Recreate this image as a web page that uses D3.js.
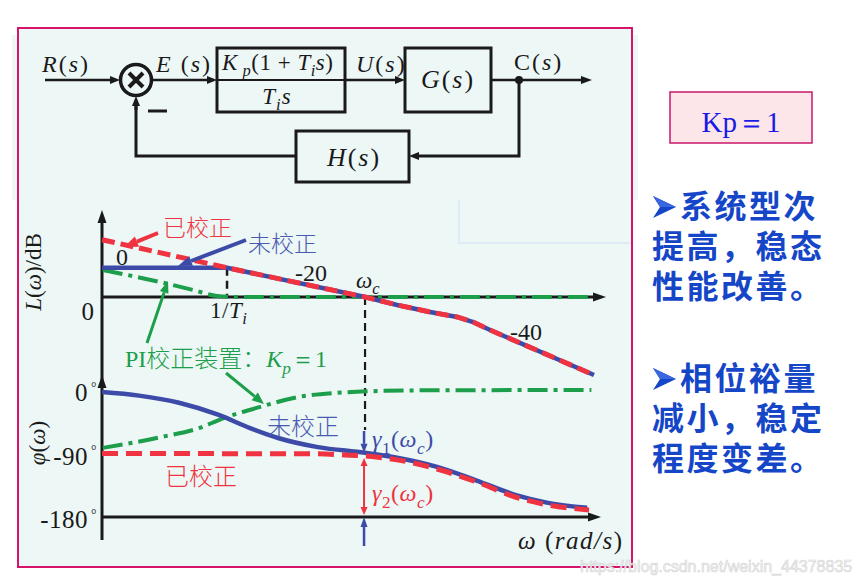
<!DOCTYPE html>
<html lang="zh">
<head>
<meta charset="UTF-8">
<title>PI校正 伯德图</title>
<script src="https://cdn.jsdelivr.net/npm/d3@7"></script>
<style>
  body { margin: 0; background: #fff; }
  svg { display: block; }
</style>
</head>
<body>
<svg width="860" height="584"></svg>
<script>
// 横軸は log10(ω·Ti)：1/Ti -> 0, ωc -> 1
const logWDomain = [-0.906, 2.746];

// 幅频特性 [logω, dB]
const magUncorrected = [[-0.906, 19.5], [0, 19.5], [1.0, 0], [1.232, -5.3], [1.471, -10], [1.667, -13.3], [1.783, -16.7], [1.906, -22], [2.659, -52]];
const magCorrected = [[-0.906, 38.2], [0, 19.5], [1.0, 0], [1.232, -5.3], [1.471, -10], [1.667, -13.3], [1.783, -16.7], [1.906, -22], [2.659, -52]];
const magPI = [[-0.9, 18], [-0.486, 10], [-0.246, 4.7], [-0.072, 0.7], [0.1, 0], [2.64, 0]];

// 相频特性 [logω, deg]
const phaseUncorrected = [[-0.906, -3], [-0.638, -8], [-0.348, -18], [-0.065, -35], [0.167, -54], [0.37, -68], [0.659, -81], [1.0, -89], [1.232, -96], [1.522, -109], [1.804, -128], [2.094, -149], [2.326, -160], [2.609, -167]];
const phaseCorrected = [[-0.906, -90], [0.659, -90.5], [0.85, -92], [1.0, -93.5], [1.232, -99], [1.522, -112], [1.804, -130], [2.094, -152], [2.326, -163], [2.623, -170]];
const phasePI = [[-0.9, -82], [-0.486, -67], [-0.174, -52], [-0.065, -43], [0.239, -24], [0.514, -10], [0.797, -4], [1.087, -1.5], [1.4, -0.5], [2.64, 0]];

// 目盛ラベル
const phaseTicks = [0, -90, -180];
const slopeLabels = [
  { l: -0.761, db: 21.5, text: "0", size: 24 },
  { l: 0.609, db: 11, text: "-20", size: 24 },
  { l: 2.167, db: -28.5, text: "-40", size: 24 }
];
const bulletLines = [
  ["系统型次", "提高，稳态", "性能改善。"],
  ["相位裕量", "减小，稳定", "程度变差。"]
];

const INK = "#1a1a1a", RED = "#ef3340", BLUE = "#3d4ba8", GREEN = "#1c9e4a";
const SERIF = '"Liberation Serif", "Times New Roman", serif';
const CJK = '"Noto Sans CJK SC", sans-serif';

const svg = d3.select("svg");

// 矢印（線＋三角）
function arrow(g, x1, y1, x2, y2, color, w, hl, hw) {
  const a = Math.atan2(y2 - y1, x2 - x1);
  const bx = x2 - hl * Math.cos(a), by = y2 - hl * Math.sin(a);
  g.append("line").attr("x1", x1).attr("y1", y1).attr("x2", bx).attr("y2", by)
    .attr("stroke", color).attr("stroke-width", w);
  const px = -Math.sin(a) * hw / 2, py = Math.cos(a) * hw / 2;
  g.append("path").attr("d", `M${x2},${y2}L${bx + px},${by + py}L${bx - px},${by - py}Z`).attr("fill", color);
}

// 数式っぽいテキスト：i=斜体, u=正体, sub=斜体下付き, subu=正体下付き, sup=上付き, cjk=中文
function mathText(g, x, y, parts, size, color, anchor, spacing) {
  const t = g.append("text").attr("x", x).attr("y", y).attr("font-size", size)
    .attr("fill", color || INK).attr("text-anchor", anchor || "start")
    .attr("font-family", SERIF).attr("letter-spacing", spacing || 0);
  let shift = 0;
  parts.forEach(([s, style]) => {
    const sp = t.append("tspan").text(s);
    let off = 0;
    if (style === "sub" || style === "subu") off = size * 0.28;
    if (style === "sup") off = -size * 0.38;
    const dy = off - shift;
    if (dy) sp.attr("dy", dy);
    shift = off;
    if (off) sp.attr("font-size", size * (style === "sup" ? 0.55 : 0.72));
    if (style === "sup") sp.attr("dx", 3);
    if (style === "i" || style === "sub") sp.attr("font-style", "italic");
    if (style === "cjk") sp.attr("font-family", CJK).attr("font-weight", 300);
  });
  return t;
}

function cjkText(g, x, y, s, size, color) {
  return g.append("text").attr("x", x).attr("y", y).attr("font-size", size)
    .attr("font-family", CJK).attr("font-weight", 300).attr("fill", color).text(s);
}

// 背景
svg.append("rect").attr("x", 12).attr("y", 35).attr("width", 626).attr("height", 165).attr("fill", "#ecf7f6");
svg.append("rect").attr("x", 18).attr("y", 28).attr("width", 614).attr("height", 539).attr("fill", "#ecf7f6");
svg.append("path").attr("d", "M459,200V243H632").attr("fill", "none").attr("stroke", "#e0eaf6").attr("stroke-width", 2);

// ---- 方框图 ----
const bd = svg.append("g");
const my = 80;
const box = (x, y, w, h) => bd.append("rect").attr("x", x).attr("y", y).attr("width", w).attr("height", h)
  .attr("fill", "none").attr("stroke", INK).attr("stroke-width", 3);
arrow(bd, 45, my, 120, my, INK, 2.5, 10, 8);
bd.append("circle").attr("cx", 136).attr("cy", my).attr("r", 15.5).attr("fill", "none").attr("stroke", INK).attr("stroke-width", 3.5);
bd.append("path").attr("d", `M129,${my - 7}L143,${my + 7}M143,${my - 7}L129,${my + 7}`).attr("stroke", INK).attr("stroke-width", 4);
arrow(bd, 152, my, 217, my, INK, 2.5, 10, 8);
box(217, 48, 128, 64);
bd.append("line").attr("x1", 217).attr("x2", 345).attr("y1", my).attr("y2", my).attr("stroke", INK).attr("stroke-width", 2);
arrow(bd, 345, my, 405, my, INK, 2.5, 10, 8);
box(405, 48, 86, 64);
arrow(bd, 491, my, 592, my, INK, 2.5, 11, 8);
bd.append("circle").attr("cx", 519).attr("cy", my).attr("r", 4).attr("fill", INK);
bd.append("path").attr("d", `M519,${my}V156H420`).attr("fill", "none").attr("stroke", INK).attr("stroke-width", 3);
arrow(bd, 420, 156, 409, 156, INK, 3, 10, 8);
box(296, 131, 113, 51);
bd.append("path").attr("d", "M296,156H136V106").attr("fill", "none").attr("stroke", INK).attr("stroke-width", 3);
arrow(bd, 136, 110, 136, my + 16, INK, 3, 10, 8);
bd.append("line").attr("x1", 148).attr("x2", 167).attr("y1", 111).attr("y2", 111).attr("stroke", INK).attr("stroke-width", 3);

mathText(bd, 42, 72, [["R", "i"], ["(", "u"], ["s", "i"], [")", "u"]], 24, INK, "start", 2);
mathText(bd, 156, 72, [["E", "i"], [" (", "u"], ["s", "i"], [")", "u"]], 24, INK, "start", 2);
mathText(bd, 222, 70, [["K", "i"], [" p", "sub"], ["(1 + ", "u"], ["T", "i"], ["i", "sub"], ["s", "i"], [")", "u"]], 23, INK, "start", 0.5);
mathText(bd, 277, 104, [["T", "i"], ["i", "sub"], ["s", "i"]], 23, INK, "middle", 1);
mathText(bd, 356, 72, [["U", "i"], ["(", "u"], ["s", "i"], [")", "u"]], 24, INK, "start", 2);
mathText(bd, 448, 88, [["G", "i"], ["(", "u"], ["s", "i"], [")", "u"]], 26, INK, "middle", 2);
mathText(bd, 514, 70, [["C", "u"], ["(", "u"], ["s", "i"], [")", "u"]], 24, INK, "start", 2);
mathText(bd, 354, 166, [["H", "i"], ["(", "u"], ["s", "i"], [")", "u"]], 26, INK, "middle", 2);

// ---- 伯德图 ----
const x = d3.scaleLinear().domain(logWDomain).range([102, 606]);
const yMag = d3.scaleLinear().domain([0, 20]).range([297, 267]);
const yPh = d3.scaleLinear().domain([-180, 0]).range([517, 390]);
const x0 = x(logWDomain[0]);

const plot = svg.append("g");

// 座標軸
arrow(plot, x0, 383, x0, 210, INK, 3, 13, 9);
arrow(plot, x0, yMag(0), x(logWDomain[1]), yMag(0), INK, 3, 13, 9);
arrow(plot, x0, 540, x0, 375, INK, 3, 13, 9);
arrow(plot, x0, yPh(-180), 601, yPh(-180), INK, 3, 13, 9);

const magLine = d3.line().x(d => x(d[0])).y(d => yMag(d[1]));
const phLine = d3.line().x(d => x(d[0])).y(d => yPh(d[1])).curve(d3.curveMonotoneX);
const smoothMag = d3.line().x(d => x(d[0])).y(d => yMag(d[1])).curve(d3.curveMonotoneX);

// 辅助虚线
plot.append("line").attr("x1", x(0)).attr("x2", x(0)).attr("y1", yMag(19.5)).attr("y2", yMag(0))
  .attr("stroke", INK).attr("stroke-width", 2.5).attr("stroke-dasharray", "8,5");
plot.append("line").attr("x1", x(1)).attr("x2", x(1)).attr("y1", yMag(0)).attr("y2", 430)
  .attr("stroke", INK).attr("stroke-width", 2.2).attr("stroke-dasharray", "8,5");

// 幅频
plot.append("path").attr("d", smoothMag(magPI)).attr("fill", "none").attr("stroke", GREEN)
  .attr("stroke-width", 4).attr("stroke-dasharray", "20,6,4,6");
plot.append("path").attr("d", magLine(magUncorrected)).attr("fill", "none").attr("stroke", BLUE).attr("stroke-width", 4.5);
plot.append("path").attr("d", magLine(magCorrected)).attr("fill", "none").attr("stroke", RED)
  .attr("stroke-width", 5).attr("stroke-dasharray", "13,6");

// 相频
plot.append("path").attr("d", phLine(phasePI)).attr("fill", "none").attr("stroke", GREEN)
  .attr("stroke-width", 4).attr("stroke-dasharray", "20,6,4,6");
plot.append("path").attr("d", phLine(phaseUncorrected)).attr("fill", "none").attr("stroke", BLUE).attr("stroke-width", 4.5);
plot.append("path").attr("d", phLine(phaseCorrected)).attr("fill", "none").attr("stroke", RED)
  .attr("stroke-width", 5).attr("stroke-dasharray", "16,8");

// 相位裕量
const xc = x(1) - 1;
arrow(plot, xc, 431, xc, yPh(-89), BLUE, 2.5, 9, 7);
arrow(plot, xc, 486, xc, yPh(-93.5) + 2, RED, 2, 8, 7);
arrow(plot, xc, 486, xc, yPh(-180) - 2, RED, 2, 8, 7);
arrow(plot, xc, 546, xc, yPh(-180), BLUE, 2.5, 10, 7);

// 注記の矢印
arrow(plot, 158, 233, 124, 247, RED, 4, 14, 11);
arrow(plot, 246, 240, 178, 266, BLUE, 4, 14, 10);
arrow(plot, 147, 343, 168, 281, GREEN, 3, 12, 9);
arrow(plot, 226, 373, 264, 404, GREEN, 3, 12, 10);

// 目盛・ラベル
mathText(plot, 94, yMag(0) + 23, [["0", "u"]], 25, INK, "end");
phaseTicks.forEach(v => {
  mathText(plot, 97, yPh(v) + 11, [[String(v), "u"], ["°", "sup"]], 25, INK, "end", 0.5);
});
slopeLabels.forEach(s => {
  mathText(plot, x(s.l), yMag(s.db), [[s.text, "u"]], s.size, INK, "middle");
});
mathText(plot, x(0) - 17, 318, [["1/", "u"], ["T", "i"], ["i", "sub"]], 23, INK, "start", 0.5);
mathText(plot, x(1) - 9, 288, [["ω", "i"], ["c", "sub"]], 23);
mathText(plot, 518, 549, [["ω", "i"], ["  (", "u"], ["rad/s", "i"], [")", "u"]], 25, INK, "start", 1.5);
mathText(plot, 372, 447, [["γ", "i"], ["1", "subu"], ["(", "u"], ["ω", "i"], ["c", "sub"], [")", "u"]], 24, BLUE, "start", 0.5);
mathText(plot, 372, 501, [["γ", "i"], ["2", "subu"], ["(", "u"], ["ω", "i"], ["c", "sub"], [")", "u"]], 24, RED, "start", 0.5);

mathText(plot, 41, 272, [["L", "i"], ["(", "u"], ["ω", "i"], [")/dB", "u"]], 23, INK, "middle")
  .attr("transform", "rotate(-90,41,272)");
mathText(plot, 45, 443, [["φ", "i"], ["(", "u"], ["ω", "i"], [")", "u"]], 23, INK, "middle")
  .attr("transform", "rotate(-90,45,443)");

cjkText(plot, 163, 236, "已校正", 23, RED);
cjkText(plot, 248, 252, "未校正", 23, "#4a5ab0");
cjkText(plot, 267, 435, "未校正", 24, "#4a5ab0");
cjkText(plot, 165, 485, "已校正", 24, RED);
mathText(plot, 125, 367, [["PI", "u"], ["校正装置：", "cjk"], ["K", "i"], ["p", "sub"], ["＝1", "u"]], 24, GREEN);

// 枠
svg.append("rect").attr("x", 18).attr("y", 28).attr("width", 614).attr("height", 539)
  .attr("fill", "none").attr("stroke", "#d8136a").attr("stroke-width", 2);

// ---- 右側 ----
svg.append("rect").attr("x", 670).attr("y", 92).attr("width", 142).attr("height", 51)
  .attr("fill", "#fde6ea").attr("stroke", "#c8186a").attr("stroke-width", 1.5);
svg.append("text").attr("x", 741).attr("y", 132).attr("text-anchor", "middle")
  .attr("font-family", SERIF).attr("font-size", 29).attr("fill", "#1a1ae6").text("Kp＝1");

const tb = svg.append("g").attr("fill", "#1546c8");
bulletLines.forEach((lines, gi) => {
  const base = gi === 0 ? 218 : 390;
  const cy = base - 11;
  // ➢ 記号
  tb.append("path").attr("d", `M653,${cy - 11}L676,${cy}L653,${cy + 11}L660,${cy}Z`);
  tb.append("path").attr("d", `M653,${cy - 11}L676,${cy}L660,${cy}Z`).attr("fill", "#3a66e0");
  lines.forEach((s, i) => {
    tb.append("text").attr("x", i === 0 ? 680 : 652).attr("y", base + i * 40)
      .attr("font-family", CJK).attr("font-weight", 700).attr("font-size", 32)
      .attr("letter-spacing", 2.5).text(s);
  });
});

// 透かし
svg.append("text").attr("x", 580).attr("y", 572).attr("font-family", '"Liberation Sans", Arial, sans-serif')
  .attr("font-size", 16).attr("fill", "#f2f2f2").attr("stroke", "#d6d6d6").attr("stroke-width", 0.6)
  .text("https://blog.csdn.net/weixin_44378835");
</script>
</body>
</html>
